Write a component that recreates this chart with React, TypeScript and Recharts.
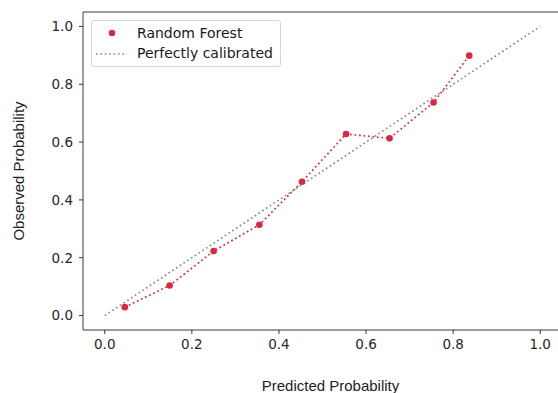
import React from 'react';
import { ComposedChart, Line, XAxis, YAxis, ReferenceArea } from 'recharts';

const predicted = [0.046, 0.149, 0.25, 0.355, 0.453, 0.554, 0.654, 0.755, 0.837];
const observed = [0.029, 0.104, 0.223, 0.314, 0.463, 0.628, 0.613, 0.737, 0.899];
const diagX = [0, 1];
const diagY = [0, 1];
const ticks = [0, 0.2, 0.4, 0.6, 0.8, 1.0];
const seriesNames = ['Random Forest', 'Perfectly calibrated'];

const RED = '#dc2743';
const GRAY = '#8c8c8c';

const rfData = predicted.map((x, i) => ({ x, y: observed[i] }));
const diagData = diagX.map((x, i) => ({ x, y: diagY[i] }));

const tickStyle = { fontFamily: 'DejaVu Sans', fontSize: 13.5, fill: '#262626' };
const labelFont = { fontFamily: 'Liberation Sans, Arial, sans-serif', fontSize: 15, fill: '#222' };

const LegendBox = () => (
  <div
    style={{
      position: 'absolute',
      left: 91,
      top: 20,
      width: 190,
      height: 47,
      boxSizing: 'border-box',
      border: '1px solid #d6d6d6',
      borderRadius: 3,
      background: 'rgba(255,255,255,0.85)',
      fontFamily: 'DejaVu Sans',
      fontSize: 14,
      color: '#1a1a1a',
    }}
  >
    <svg width={40} height={47} style={{ position: 'absolute', left: 0, top: 0 }}>
      <circle cx={20} cy={12} r={3.2} fill={RED} />
      <line x1={4} y1={33} x2={35} y2={33} stroke={GRAY} strokeWidth={1.6} strokeDasharray="1.6 2.8" />
    </svg>
    <div style={{ position: 'absolute', left: 45, top: 3, lineHeight: '18px', whiteSpace: 'nowrap' }}>{seriesNames[0]}</div>
    <div style={{ position: 'absolute', left: 45, top: 23, lineHeight: '18px', whiteSpace: 'nowrap' }}>{seriesNames[1]}</div>
  </div>
);

export default function App() {
  return (
    <div style={{ position: 'absolute', left: 0, top: 0, width: 558, height: 393, overflow: 'hidden', background: '#fff' }}>
      <ComposedChart width={562} height={393} margin={{ top: 12, right: 0, bottom: 0, left: 0 }}>
        <XAxis
          type="number"
          dataKey="x"
          domain={[-0.05, 1.05]}
          ticks={ticks}
          allowDataOverflow
          height={63}
          tickSize={4}
          tickMargin={5}
          axisLine={false}
          tickLine={{ stroke: '#333' }}
          tick={tickStyle}
          tickFormatter={(v: number) => v.toFixed(1)}
          label={{ value: 'Predicted Probability', position: 'center', dx: 8, dy: 24, style: labelFont }}
        />
        <YAxis
          type="number"
          dataKey="y"
          domain={[-0.05, 1.05]}
          ticks={ticks}
          allowDataOverflow
          width={83}
          tickSize={4}
          tickMargin={6}
          axisLine={false}
          tickLine={{ stroke: '#333' }}
          tick={tickStyle}
          tickFormatter={(v: number) => v.toFixed(1)}
          label={{ value: 'Observed Probability', position: 'center', angle: -90, dx: -23, style: labelFont }}
        />
        <ReferenceArea x1={-0.05} x2={1.05} y1={-0.05} y2={1.05} fill="none" stroke="#3a3a3a" strokeWidth={1} ifOverflow="visible" />
        <Line
          data={diagData}
          dataKey="y"
          name={seriesNames[1]}
          stroke={GRAY}
          strokeWidth={1.7}
          strokeDasharray="1.7 2.8"
          dot={false}
          activeDot={false}
          type="linear"
          isAnimationActive={false}
        />
        <Line
          data={rfData}
          dataKey="y"
          name={seriesNames[0]}
          stroke={RED}
          strokeWidth={1.7}
          strokeDasharray="1.7 2.8"
          dot={{ r: 3.3, fill: RED, stroke: 'none' }}
          activeDot={false}
          type="linear"
          isAnimationActive={false}
        />
      </ComposedChart>
      <LegendBox />
    </div>
  );
}
